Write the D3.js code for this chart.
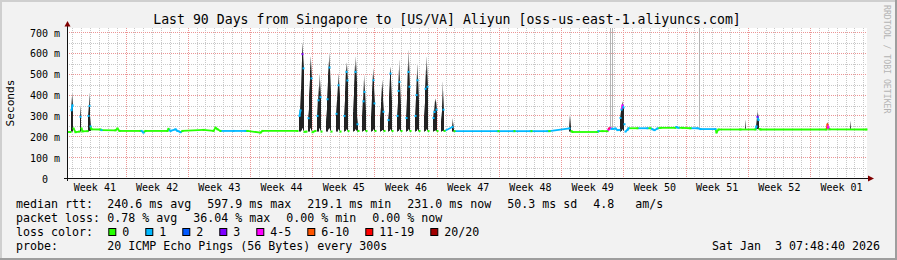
<!DOCTYPE html>
<html><head><meta charset="utf-8">
<script src="https://cdn.jsdelivr.net/npm/d3@7"></script>
<style>
html,body{margin:0;padding:0;background:#f2f2f2;}
svg{display:block;}
text{font-family:"DejaVu Sans Mono",monospace;white-space:pre;fill:#000;}
</style>
</head><body>
<svg id="chart" width="897" height="260"></svg>
<script>
// ---------------- DATA ----------------
const titleText = "Last 90 Days from Singapore to [US/VA] Aliyun [oss-us-east-1.aliyuncs.com]";
const yLabel = "Seconds";
const watermark = "RRDTOOL / TOBI OETIKER";
// time model: 800 consolidated samples over 90 days (one sample = 2.7 h)
const totalSamples = 800;
const totalDays = 90;
const firstWeekStartSample = 58;   // first Monday 00:00 inside the window
const weekLabels = ["Week 41","Week 42","Week 43","Week 44","Week 45","Week 46","Week 47",
                    "Week 48","Week 49","Week 50","Week 51","Week 52","Week 01"];
const yTickValues = [0,100,200,300,400,500,600,700];          // ms
const yTickLabels = ["0","100 m","200 m","300 m","400 m","500 m","600 m","700 m"];
const yMinorValues = [50,150,250,350,450,550,650];

// median rtt (ms) per sample, with loss bucket (-1 = hidden under smoke)
const medSample = [0,3,4,5,6,8,12,13,14,15,20,21,22,23,24,33,34,48,50,52,73,74,76,78,100,101,103,108,110,113,115,136,146,148,150,153,166,178,180,193,195,230,
 232,233,234,235,236,237,239,
 241,242,243,244,245,248,
 250,251,252,253,254,
 259,260,261,262,263,264,
 269,270,271,272,273,
 277,278,279,280,281,
 286,287,288,289,290,291,
 295,296,297,298,299,
 304,305,306,307,308,
 313,314,315,316,317,
 321,322,323,324,325,
 330,331,332,333,334,
 339,340,341,342,343,
 348,349,350,351,352,
 357,358,359,360,361,
 366,367,368,369,370,
 374,375,376,377,
 385,386,387,
 430,431,446,447,463,464,480,482,
 502,503,504,505,530,531,535,540,
 541,542,543,544,546,548,550,552,553,554,555,556,557,558,560,561,570,580,583,585,587,590,593,608,609,611,615,623,630,633,648,649,651,673,688,
 689,690,691,692,693,759,760,761,762,799];
const medMs = [223,223,327,351,240,222,225,296,240,226,227,300,348,250,236,235,232,231,240,228,228,228,220,228,228,238,228,236,228,222,228,233,228,244,236,228,228,228,228,220,228,228,
 300,327,430,596,528,224,225,
 289,400,523,480,222,228,
 300,375,423,390,225,
 280,380,500,532,420,225,
 310,380,447,400,225,
 300,420,511,470,228,
 320,440,511,470,260,228,
 300,370,415,330,228,
 300,420,471,360,228,
 290,370,423,320,228,
 280,400,503,380,228,
 300,420,463,360,228,
 290,420,511,440,228,
 300,400,471,380,228,
 300,430,503,440,228,
 290,319,367,330,228,
 280,347,330,228,
 247,240,227,
 227,227,227,227,227,227,227,227,
 240,247,227,223,223,227,227,227,
 235,241,241,238,238,240,232,233,290,330,351,340,260,225,233,241,241,241,241,236,232,240,243,243,247,243,243,241,241,237,237,220,235,235,235,
 250,296,280,237,235,235,259,241,236,235];
const medLoss = [0,0,1,1,0,0,0,1,0,0,0,1,1,1,0,0,1,0,0,0,0,1,1,0,0,0,1,1,1,1,0,0,0,0,0,0,1,1,0,0,0,0,
 1,1,-1,3,1,0,0,
 1,-1,-1,1,0,0,
 1,1,-1,1,0,
 -1,1,-1,1,-1,0,
 1,-1,1,-1,0,
 1,-1,1,1,0,
 -1,-1,1,-1,1,0,
 -1,1,1,-1,0,
 -1,-1,1,1,0,
 -1,-1,-1,1,0,
 1,-1,1,-1,0,
 1,1,1,-1,0,
 1,-1,1,1,0,
 1,1,1,-1,0,
 -1,1,-1,1,0,
 1,1,-1,1,0,
 -1,-1,1,0,
 1,-1,0,
 1,0,1,0,1,0,1,0,
 1,-1,0,0,0,1,0,0,
 4,6,4,1,1,1,1,1,1,1,4,1,1,1,1,1,0,1,0,1,1,1,0,0,1,1,0,0,1,1,1,0,0,0,0,
 1,3,1,0,0,0,5,4,0,0];

// smoke (distribution of the 20 pings): low / median / high in ms
const smokeSample = [4,5,13,21,22,23,
 232,233,234,235,236, 241,242,243,244, 250,251,252,253, 259,260,261,262,263,
 269,270,271,272, 277,278,279,280, 286,287,288,289,290, 295,296,297,298,
 304,305,306,307, 313,314,315,316, 321,322,323,324, 330,331,332,333,
 339,340,341,342, 348,349,350,351, 357,358,359,360, 366,367,368,369,
 374,375,376, 385,386,
 502,503, 543,545, 553,554,555,556, 632, 678, 689,690,691, 760, 783];
const smokeLo = [225,225,225,225,228,228,
 225,225,230,240,230, 225,225,240,230, 225,225,240,230, 225,225,235,240,230,
 225,225,235,230, 225,228,235,230, 225,228,235,230,225, 225,228,232,228,
 225,228,235,228, 225,228,232,228, 225,228,235,228, 225,228,235,228,
 225,228,235,230, 225,228,235,228, 225,228,235,230, 225,228,230,228,
 225,228,228, 225,225,
 225,225, 241,238, 225,228,235,230, 241, 235, 237,237,237, 240, 235];
const smokeMid = [327,351,296,300,348,250,
 300,327,430,596,528, 289,400,523,480, 300,375,423,390, 280,380,500,532,420,
 310,380,447,400, 300,420,511,470, 320,440,511,470,260, 300,370,415,330,
 300,420,471,360, 290,370,423,320, 280,400,503,380, 300,420,463,360,
 290,420,511,440, 300,400,471,380, 300,430,503,440, 290,319,367,330,
 280,347,330, 247,240,
 240,247, 241,238, 290,330,351,340, 241, 240, 250,296,280, 259, 240];
const smokeHi = [390,415,350,350,410,300,
 330,420,560,650,600, 330,470,585,560, 380,440,503,470, 330,460,560,600,520,
 370,440,503,470, 370,520,556,540, 400,540,583,560,300, 380,470,495,420,
 380,500,527,440, 340,440,471,380, 320,480,535,470, 360,520,567,450,
 380,540,615,560, 380,500,551,480, 360,520,583,540, 330,370,383,370,
 320,463,420, 288,270,
 303,303, 760,760, 320,350,370,360, 760, 280, 290,324,310, 270, 275];

// legend
const legendComments = ["median rtt:","packet loss:","loss color:","probe:"];
const rttItems  = ["240.6 ms avg","597.9 ms max","219.1 ms min","231.0 ms now","50.3 ms sd","4.8   am/s"];
const lossItems = ["0.78 % avg","36.04 % max","0.00 % min","0.00 % now"];
const probeText = "20 ICMP Echo Pings (56 Bytes) every 300s";
const lossLabels = ["0","1","2","3","4-5","6-10","11-19","20/20"];
const lossColors = ["#26ff00","#00b8ff","#0059ff","#7e00ff","#ff00ff","#ff5500","#ff0000","#a10000"];
const dateText = "Sat Jan  3 07:48:40 2026";

// ---------------- DRAW ----------------
const W = 897, H = 260;
const svg = d3.select("#chart");
const plotL = 67, plotR = 867, plotT = 28, plotB = 178;

svg.append("rect").attr("x",0).attr("y",0).attr("width",W).attr("height",H).attr("fill","#f2f2f2");
svg.append("rect").attr("x",0).attr("y",0).attr("width",W).attr("height",2).attr("fill","#cfcfcf");
svg.append("rect").attr("x",0).attr("y",0).attr("width",2).attr("height",H).attr("fill","#cfcfcf");
svg.append("rect").attr("x",0).attr("y",H-2).attr("width",W).attr("height",2).attr("fill","#9e9e9e");
svg.append("rect").attr("x",W-2).attr("y",0).attr("width",2).attr("height",H).attr("fill","#9e9e9e");

svg.append("rect").attr("x",plotL).attr("y",plotT).attr("width",plotR-plotL).attr("height",plotB-plotT).attr("fill","#fff");

const x = d3.scaleLinear().domain([0,totalSamples]).range([67.5,867.5]);
const y = d3.scaleLinear().domain([0,700]).range([178.5,32.5]);
const perDay = totalSamples/totalDays;
const perWeek = perDay*7;

const defs = svg.append("defs");
defs.append("clipPath").attr("id","clip").append("rect")
  .attr("x",plotL).attr("y",plotT).attr("width",plotR-plotL+1).attr("height",plotB-plotT);
const grad = defs.append("linearGradient").attr("id","smk").attr("x1",0).attr("y1",1).attr("x2",0).attr("y2",0);
grad.append("stop").attr("offset","0%").attr("stop-color","#2a2a2a");
grad.append("stop").attr("offset","50%").attr("stop-color","#8a8a8a");
grad.append("stop").attr("offset","100%").attr("stop-color","#ececec");

const grid = svg.append("g");
const dayLines = [];
for (let s = firstWeekStartSample - 6*perDay; s < totalSamples; s += perDay) dayLines.push(s);
grid.selectAll(".dl").data(dayLines).enter().append("line")
  .attr("x1",d=>Math.round(x(d))+0.5).attr("x2",d=>Math.round(x(d))+0.5)
  .attr("y1",plotT).attr("y2",plotB)
  .attr("stroke","#c8c8c8").attr("stroke-width",1).attr("stroke-dasharray","1,1");
grid.selectAll(".hm").data(yMinorValues).enter().append("line")
  .attr("x1",plotL).attr("x2",plotR).attr("y1",d=>Math.round(y(d))+0.5).attr("y2",d=>Math.round(y(d))+0.5)
  .attr("stroke","#c8c8c8").attr("stroke-width",1).attr("stroke-dasharray","1,1");
grid.selectAll(".hM").data(yTickValues.filter(v=>v>0)).enter().append("line")
  .attr("x1",plotL).attr("x2",plotR).attr("y1",d=>Math.floor(y(d))+0.5).attr("y2",d=>Math.floor(y(d))+0.5)
  .attr("stroke","#eb9595").attr("stroke-width",1).attr("stroke-dasharray","1,1");
const weekLines = [];
for (let s = firstWeekStartSample; s < totalSamples; s += perWeek) weekLines.push(s);
grid.selectAll(".wl").data(weekLines).enter().append("line")
  .attr("x1",d=>Math.round(x(d))+0.5).attr("x2",d=>Math.round(x(d))+0.5)
  .attr("y1",plotT).attr("y2",plotB)
  .attr("stroke","#eb9595").attr("stroke-width",1).attr("stroke-dasharray","1,1");

// smoke
const plot = svg.append("g").attr("clip-path","url(#clip)");
const smoke = smokeSample.map((s,i)=>({s,lo:smokeLo[i],mid:smokeMid[i],hi:smokeHi[i]}));
smoke.forEach(d=>{
  const cx = Math.floor(x(d.s));
  if (d.hi > 700) {
    plot.append("rect").attr("x",cx).attr("y",y(d.hi)).attr("width",1)
      .attr("height",y(d.lo)-y(d.hi)).attr("fill","#b4b4b4");
    return;
  }
  plot.append("rect").attr("x",cx).attr("y",y(d.hi)).attr("width",1)
    .attr("height",Math.max(0.5,y(d.mid)-y(d.hi))).attr("fill","url(#smk)");
  plot.append("rect").attr("x",cx).attr("y",y(d.mid)).attr("width",1)
    .attr("height",Math.max(0.5,y(d.lo)-y(d.mid))).attr("fill","#222");
});

// median line coloured by loss
const pts = medSample.map((s,i)=>({s,ms:medMs[i],l:medLoss[i]}));
for (let i=0;i<pts.length-1;i++){
  const a=pts[i], b=pts[i+1];
  if (a.l<0 || b.l<0) continue;
  if (Math.abs(y(a.ms)-y(b.ms))>6) continue;
  const c = lossColors[a.l===b.l ? a.l : b.l];
  plot.append("line").attr("x1",x(a.s)).attr("y1",y(a.ms)).attr("x2",x(b.s)).attr("y2",y(b.ms))
    .attr("stroke",c).attr("stroke-width",1.8);
}
pts.filter(p=>p.l>=0).forEach(p=>{
  plot.append("rect").attr("x",x(p.s)-1).attr("y",y(p.ms)-1).attr("width",2).attr("height",2)
    .attr("fill",lossColors[p.l]);
});

// axes
const yAxis = d3.axisLeft(y).tickValues(yTickValues).tickFormat((d,i)=>yTickLabels[i]).tickSize(0).tickPadding(7.5);
const gy = svg.append("g").attr("transform","translate(67.5,0)").call(yAxis);
gy.select(".domain").remove();
gy.selectAll("text").attr("font-size","10px").attr("font-family","DejaVu Sans Mono").attr("dy","0.35em").attr("fill","#000");
gy.selectAll(".tick").filter(d=>d===0).select("text").attr("x",-19.5);

const weekMids = weekLabels.map((w,i)=>firstWeekStartSample + (i-0.5)*perWeek);
const xAxis = d3.axisBottom(x).tickValues(weekMids).tickFormat((d,i)=>weekLabels[i]).tickSize(0).tickPadding(0);
const gx = svg.append("g").attr("transform","translate(0,178.5)").call(xAxis);
gx.select(".domain").remove();
gx.selectAll("text").attr("font-size","10px").attr("font-family","DejaVu Sans Mono").attr("y",12.5).attr("dy",null).attr("fill","#000");

svg.append("line").attr("x1",64).attr("x2",869).attr("y1",178.5).attr("y2",178.5).attr("stroke","#111").attr("stroke-width",1);
svg.append("line").attr("x1",67.5).attr("x2",67.5).attr("y1",181).attr("y2",25).attr("stroke","#111").attr("stroke-width",1);
svg.append("path").attr("d","M868,175.5 L874,178.5 L868,181.5 Z").attr("fill","#800000");
svg.append("path").attr("d","M64.5,26.5 L67.5,21 L70.5,26.5 Z").attr("fill","#800000");

svg.append("text").attr("x",447).attr("y",23.5).attr("text-anchor","middle").attr("font-size","13.2px").text(titleText);
svg.append("text").attr("transform","translate(14,103) rotate(-90)").attr("text-anchor","middle").attr("font-size","11.2px").text(yLabel);
svg.append("text").attr("transform","translate(883.5,5) rotate(90)").attr("font-size","8.2px").style("fill","#b4b4b4").text(watermark);

// legend (rrdtool-style flow layout: monospace char width 7, item gap 16)
const charW = 7, gap = 16, legendX0 = 16, itemX0 = 107.3, fs = "11.63px";
const rowY = [208,222,236,250];
legendComments.forEach((t,i)=>svg.append("text").attr("x",legendX0).attr("y",rowY[i]).attr("font-size",fs).text(t));
function flow(items, rowIdx){
  let cx = itemX0;
  items.forEach(t=>{
    svg.append("text").attr("x",cx).attr("y",rowY[rowIdx]).attr("font-size",fs).text(t);
    cx += t.length*charW + gap;
  });
}
flow(rttItems,0);
flow(lossItems,1);
let bx = itemX0 + 1;
lossLabels.forEach((lab,i)=>{
  svg.append("rect").attr("x",bx+0.5).attr("y",228.5).attr("width",7).attr("height",7)
    .attr("fill",lossColors[i]).attr("stroke","#000").attr("stroke-width",1);
  svg.append("text").attr("x",bx+14).attr("y",rowY[2]).attr("font-size",fs).text(lab);
  bx += 14 + lab.length*charW + gap;
});
svg.append("text").attr("x",itemX0).attr("y",rowY[3]).attr("font-size",fs).text(probeText);
svg.append("text").attr("x",880).attr("y",rowY[3]).attr("text-anchor","end").attr("font-size",fs).text(dateText);
</script>
</body></html>
